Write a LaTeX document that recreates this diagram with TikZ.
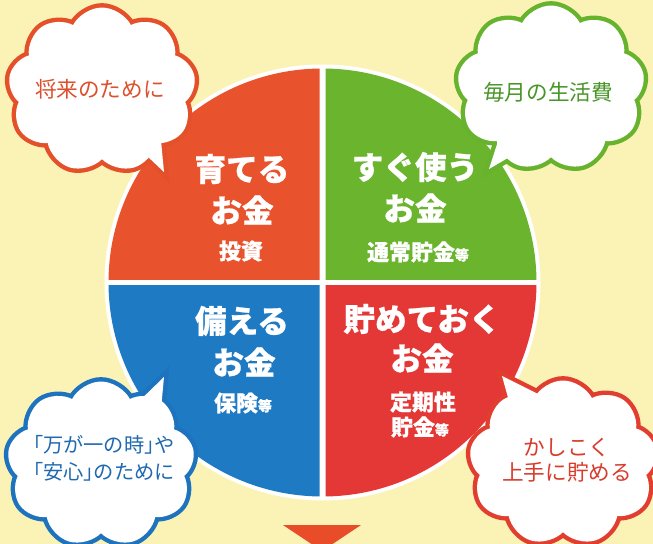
\documentclass[tikz,border=0pt]{standalone}
\usepackage{fontspec}
\setmainfont{Noto Sans CJK JP}
\newfontfamily\jphalt[RawFeature=+halt]{Noto Sans CJK JP}
\newfontfamily\heavy[FakeBold=0.6]{Noto Sans CJK JP}
\usetikzlibrary{shapes.symbols}

\definecolor{bgyellow}{RGB}{251,243,182}
\definecolor{tlred}{RGB}{232,82,44}
\definecolor{trgreen}{RGB}{106,180,46}
\definecolor{blblue}{RGB}{31,122,196}
\definecolor{brred}{RGB}{228,56,54}
\definecolor{tlline}{RGB}{228,80,42}
\definecolor{trline}{RGB}{104,179,46}
\definecolor{blline}{RGB}{30,115,190}
\definecolor{brline}{RGB}{226,62,48}
\definecolor{tltext}{RGB}{220,80,45}
\definecolor{trtext}{RGB}{72,150,40}
\definecolor{bltext}{RGB}{30,105,175}
\definecolor{brtext}{RGB}{215,60,45}
\definecolor{arrowred}{RGB}{233,76,40}

\tikzset{
  puff/.style={cloud, cloud puffs=9, cloud puff arc=125, cloud ignores aspect, minimum width=3.75cm, minimum height=3.3cm, inner sep=0pt},
  title/.style={text=white, font=\heavy\bfseries\fontsize{18}{20}\selectfont},
  sub/.style={text=white, font=\heavy\bfseries\fontsize{12.5}{14}\selectfont},
  say/.style={font=\fontsize{12.3}{14.2}\selectfont, align=center},
}
\newcommand\tou{{\fontsize{8}{8}\selectfont 等}}

\begin{document}
\begin{tikzpicture}[x=0.02cm,y=-0.02cm]
 \clip (0,0) rectangle (653,544);
 \fill[bgyellow] (0,0) rectangle (653,544);
 % circle in four parts
 \coordinate (ctr) at (322.5,282.5);
 \fill[white] (ctr) circle (218);
 \foreach \sx/\sy/\col in {-1/-1/tlred, 1/-1/trgreen, -1/1/blblue, 1/1/brred}{
  \begin{scope}
   \clip ({322.5+\sx*3},{282.5+\sy*3}) rectangle ({322.5+\sx*230},{282.5+\sy*230});
   \fill[\col] (ctr) circle (214);
  \end{scope}
 }
 % arrow below
 \fill[arrowred] (283,525) -- (361,525) -- (322,551) -- cycle;
 % labels in the circle
 \node[title] (tl1) at (242,169) {育てる};
 \node[title] (tl2) at (242,210) {お金};
 \node[sub] (tl3) at (241,251) {投資};
 \node[title] (tr1) at (415,167) {すぐ使う};
 \node[title] (tr2) at (415,208) {お金};
 \node[sub] (tr3) at (418,252) {通常貯金\tou};
 \node[title] (bl1) at (242,321) {備える};
 \node[title] (bl2) at (244,362) {お金};
 \node[sub] (bl3) at (243,403) {保険\tou};
 \node[title] (br1) at (422,319) {貯めておく};
 \node[title] (br2) at (422,358) {お金};
 \node[sub] (br3) at (423,402) {定期性};
 \node[sub] (br4) at (420,427) {貯金\tou};
 % clouds with tails
 \foreach \n/\cx/\cy/\ax/\ay/\bx/\by/\tx/\ty/\col in {
   tlc/102/90/130/140/160/130/164/172/tlline,
   trc/551/88/500/135/530/145/489/169/trline,
   blc/101/464/130/410/160/420/164/377/blline,
   brc/563/463/512/412/540/395/502/376/brline}{
  \draw[\col, line width=5pt] (\ax,\ay) -- (\tx,\ty) -- (\bx,\by);
  \node[puff, preaction={draw=\col, line width=5pt}, fill=white] (\n) at (\cx,\cy) {};
  \fill[white] (\ax,\ay) -- (\tx,\ty) -- (\bx,\by) -- cycle;
 }
 \node[say, text=tltext] (tlt) at (100,89) {将来のために};
 \node[say, text=trtext] (trt) at (548,92) {毎月の生活費};
 \node[say, text=bltext, font=\jphalt\fontsize{11.5}{15.3}\selectfont] (blt) at (104,458) {「万が一の時」や\\「安心」のために};
 \node[say, text=brtext] (brt) at (567,460) {かしこく\\上手に貯める};
\end{tikzpicture}
\end{document}
